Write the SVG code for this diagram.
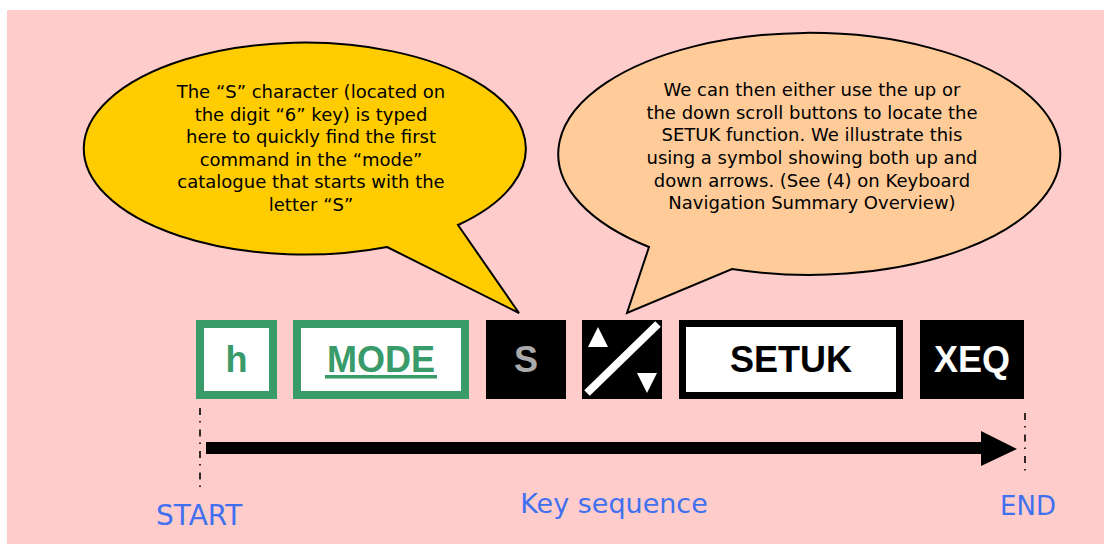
<svg xmlns="http://www.w3.org/2000/svg" width="1104" height="544" viewBox="0 0 1104 544">
<style>
.bubble{stroke:#000;stroke-width:2;stroke-linejoin:miter}
.btxt{font-family:"DejaVu Sans","Liberation Sans",sans-serif;font-size:18px;fill:#000;text-anchor:middle}
.key{font-family:"Liberation Sans",Arial,sans-serif;font-weight:bold;font-size:36px;text-anchor:middle}
.lbl{font-family:"DejaVu Sans","Liberation Sans",sans-serif;font-size:26px;fill:#4070f0}
.dd{stroke:#000;stroke-width:1.6;fill:none;stroke-dasharray:7 6 1.5 7}
</style>
<rect x="7" y="10" width="1097" height="534" fill="#ffcccc"/>

<g id="bubble-s">
<path class="bubble" fill="#ffcc00" d="M387,247 L519,313 L458,225 A221,106 0 1 0 387,247 Z"/>
<text class="btxt" x="311" y="98">The “S” character (located on</text>
<text class="btxt" x="311" y="121">the digit “6” key) is typed</text>
<text class="btxt" x="311" y="143">here to quickly find the first</text>
<text class="btxt" x="311" y="166">command in the “mode”</text>
<text class="btxt" x="311" y="188">catalogue that starts with the</text>
<text class="btxt" x="311" y="211">letter “S”</text>
</g>

<g id="bubble-scroll">
<path class="bubble" fill="#ffcc99" d="M649,247 L627,313 L732,269 A251,121 0 1 0 649,247 Z"/>
<text class="btxt" x="812" y="96">We can then either use the up or</text>
<text class="btxt" x="812" y="119">the down scroll buttons to locate the</text>
<text class="btxt" x="812" y="141">SETUK function. We illustrate this</text>
<text class="btxt" x="812" y="164">using a symbol showing both up and</text>
<text class="btxt" x="812" y="187">down arrows. (See (4) on Keyboard</text>
<text class="btxt" x="812" y="209">Navigation Summary Overview)</text>
</g>

<g id="key-h">
<rect x="200" y="324" width="73" height="71" fill="#fff" stroke="#389b69" stroke-width="8"/>
<text class="key" x="236.5" y="372" fill="#389b69">h</text>
</g>

<g id="key-mode">
<rect x="297" y="324" width="168" height="71" fill="#fff" stroke="#389b69" stroke-width="8"/>
<text class="key" x="381" y="372" fill="#389b69">MODE</text>
<rect x="325" y="375" width="112" height="3.5" fill="#389b69"/>
</g>

<g id="key-s">
<rect x="486" y="320" width="80" height="79" fill="#000"/>
<text class="key" x="526" y="372" fill="#aaaaaa">S</text>
</g>

<g id="key-updown">
<rect x="582" y="320" width="80" height="79" fill="#000"/>
<line x1="587" y1="393" x2="658" y2="324" stroke="#fff" stroke-width="8"/>
<polygon points="598,327 608,347 588,347" fill="#fff"/>
<polygon points="637,373 657,373 647,393" fill="#fff"/>
</g>

<g id="key-setuk">
<rect x="682.5" y="323.5" width="217" height="72" fill="#fff" stroke="#000" stroke-width="7"/>
<text class="key" x="791" y="372" fill="#000">SETUK</text>
</g>

<g id="key-xeq">
<rect x="920" y="320" width="104" height="79" fill="#000"/>
<text class="key" x="972" y="372" fill="#fff">XEQ</text>
</g>

<g id="connectors">
<line class="dd" x1="200" y1="408" x2="200" y2="490"/>
<line class="dd" x1="1025" y1="413" x2="1025" y2="474"/>
<rect x="206" y="442" width="776" height="12" fill="#000"/>
<polygon points="981,431 1017,449 981,466" fill="#000"/>
</g>

<text class="lbl" x="156" y="525" style="font-size:28px">START</text>
<text class="lbl" x="614" y="513" text-anchor="middle" style="font-size:27px">Key sequence</text>
<text class="lbl" x="1000" y="515">END</text>
</svg>
